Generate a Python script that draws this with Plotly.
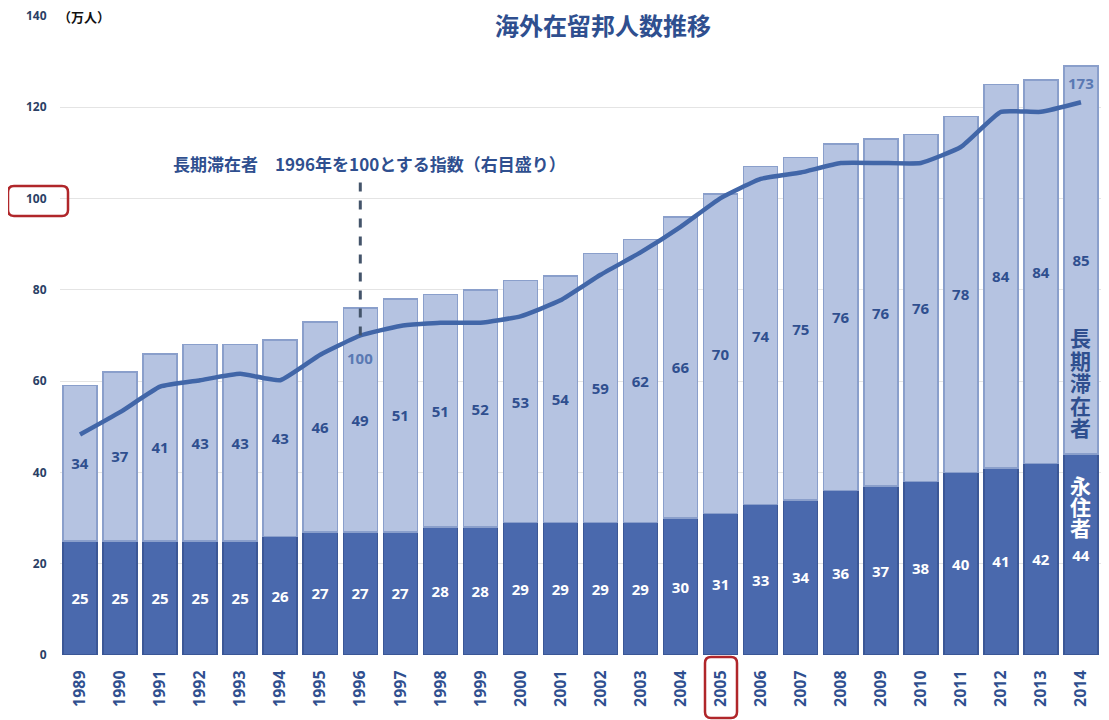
import plotly.graph_objects as go

years = [str(y) for y in range(1989, 2015)]
permanent = [25, 25, 25, 25, 25, 26, 27, 27, 27, 28, 28, 29, 29, 29, 29, 30, 31, 33, 34, 36, 37, 38, 40, 41, 42, 44]
long_term = [34, 37, 41, 43, 43, 43, 46, 49, 51, 51, 52, 53, 54, 59, 62, 66, 70, 74, 75, 76, 76, 76, 78, 84, 84, 85]
index_long = [69, 76, 84, 86, 88, 86, 94, 100, 103, 104, 104, 106, 111, 119, 126, 134, 143, 149, 151, 154, 154, 154, 159, 170, 170, 173]
label_long = "長期滞在者"
label_perm = "永住者"

NAVY = "#2f4f8f"
FONT = "Open Sans, Noto Sans CJK JP, sans-serif"
JP = "Noto Sans CJK JP"

fig = go.Figure()
fig.add_trace(go.Bar(
    x=years, y=permanent, name=label_perm,
    marker=dict(color="#4a69ad", line=dict(color="#3b5796", width=1.5)),
    text=[str(v) for v in permanent], textposition="inside", insidetextanchor="middle",
    textfont=dict(color="white", size=15, family=FONT, weight="bold"),
    textangle=0,
))
fig.add_trace(go.Bar(
    x=years, y=long_term, name=label_long,
    marker=dict(color="#b5c3e1", line=dict(color="#8a9fcb", width=1.5)),
    text=[str(v) for v in long_term], textposition="inside", insidetextanchor="middle",
    textfont=dict(color=NAVY, size=15, family=FONT, weight="bold"),
    textangle=0,
))
fig.add_trace(go.Scatter(
    x=years, y=index_long, yaxis="y2", mode="lines",
    line=dict(color="#4166a8", width=4.5, shape="spline", smoothing=0.4),
))

# The page has an 8px body margin; page-pixel coordinates below are converted.
OFF = 8
W, H = 1109 - OFF, 720 - OFF
PL, PR, PT, PB = 60, 1101, 16, 655   # plot area in page pixels
pw, ph = PR - PL, PB - PT

def px(xp):
    return (xp - PL) / pw

def py(yp):
    return (PB - yp) / ph

def rrect(x0, y0, x1, y1, r):
    a0, b0, a1, b1 = px(x0), py(y0), px(x1), py(y1)
    rx, ry = r / pw, r / ph
    return (f"M {a0+rx},{b0} L {a1-rx},{b0} Q {a1},{b0} {a1},{b0-ry} "
            f"L {a1},{b1+ry} Q {a1},{b1} {a1-rx},{b1} L {a0+rx},{b1} "
            f"Q {a0},{b1} {a0},{b1+ry} L {a0},{b0-ry} Q {a0},{b0} {a0+rx},{b0} Z")

i1996 = years.index("1996")
i2014 = years.index("2014")

shapes = [
    dict(type="line", xref="x", yref="y2", x0=i1996, x1=i1996, y0=index_long[i1996], y1=148,
         line=dict(color="#44546a", width=3, dash="dash")),
    dict(type="path", xref="paper", yref="paper", path=rrect(8, 186, 68, 216, 6),
         line=dict(color="#b0262a", width=2.5)),
    dict(type="path", xref="paper", yref="paper", path=rrect(705, 657, 737, 718, 6),
         line=dict(color="#b0262a", width=2.5)),
]

annotations = [
    dict(text="<b>海外在留邦人数推移</b>", xref="paper", yref="paper", x=px(603), y=py(25),
         showarrow=False, font=dict(size=24, color=NAVY, family=JP),
         bgcolor="white", xanchor="center", yanchor="middle"),
    dict(text="<b>（万人）</b>", xref="paper", yref="paper", x=px(56), y=py(16),
         showarrow=False, font=dict(size=13, color="#111111", family=JP),
         xanchor="left", yanchor="middle"),
    dict(text="<b>長期滞在者　1996年を100とする指数（右目盛り）</b>", xref="paper", yref="paper",
         x=px(171), y=py(163), showarrow=False,
         font=dict(size=17, color=NAVY, family=JP),
         xanchor="left", yanchor="middle"),
    dict(text=f"<b>{index_long[i1996]}</b>", xref="x", yref="y2", x=i1996, y=index_long[i1996],
         yshift=-22, showarrow=False, font=dict(size=15, color="#5a79b3", family=FONT)),
    dict(text=f"<b>{index_long[i2014]}</b>", xref="x", yref="y2", x=i2014, y=index_long[i2014],
         yshift=19, showarrow=False, font=dict(size=15, color="#5a79b3", family=FONT)),
]
for k, ch in enumerate(label_long):
    annotations.append(dict(text=f"<b>{ch}</b>", xref="x", yref="paper", x=i2014, y=py(337 + 22.5 * k),
                            showarrow=False, font=dict(size=21, color=NAVY, family=JP),
                            xanchor="center", yanchor="middle"))
for k, ch in enumerate(label_perm):
    annotations.append(dict(text=f"<b>{ch}</b>", xref="x", yref="paper", x=i2014, y=py(485 + 21 * k),
                            showarrow=False, font=dict(size=21, color="white", family=JP),
                            xanchor="center", yanchor="middle"))

fig.update_layout(
    width=W, height=H, barmode="stack", bargap=0.15, showlegend=False,
    plot_bgcolor="white", paper_bgcolor="white",
    margin=dict(l=PL - OFF, r=W - (PR - OFF), t=PT - OFF, b=H - (PB - OFF), autoexpand=False),
    font=dict(family=FONT, color=NAVY),
    xaxis=dict(type="category", range=[-0.5, len(years) - 0.5], tickangle=-90,
               ticks="outside", ticklen=8, tickcolor="rgba(0,0,0,0)", automargin=False,
               ticklabeloverflow="allow",
               tickfont=dict(size=16, color=NAVY, family=FONT, weight="bold"),
               showgrid=False, showline=False),
    yaxis=dict(range=[0, 140], dtick=20, showgrid=True, gridcolor="#e4e4e4", zeroline=False,
               ticks="outside", ticklen=10, tickcolor="rgba(0,0,0,0)", automargin=False,
               ticklabeloverflow="allow",
               tickfont=dict(size=12, color="#2b3f66", family=FONT, weight="bold")),
    yaxis2=dict(range=[0, 200], overlaying="y", side="right", visible=False, showgrid=False),
    shapes=shapes, annotations=annotations,
)

fig.write_html("out.html")
